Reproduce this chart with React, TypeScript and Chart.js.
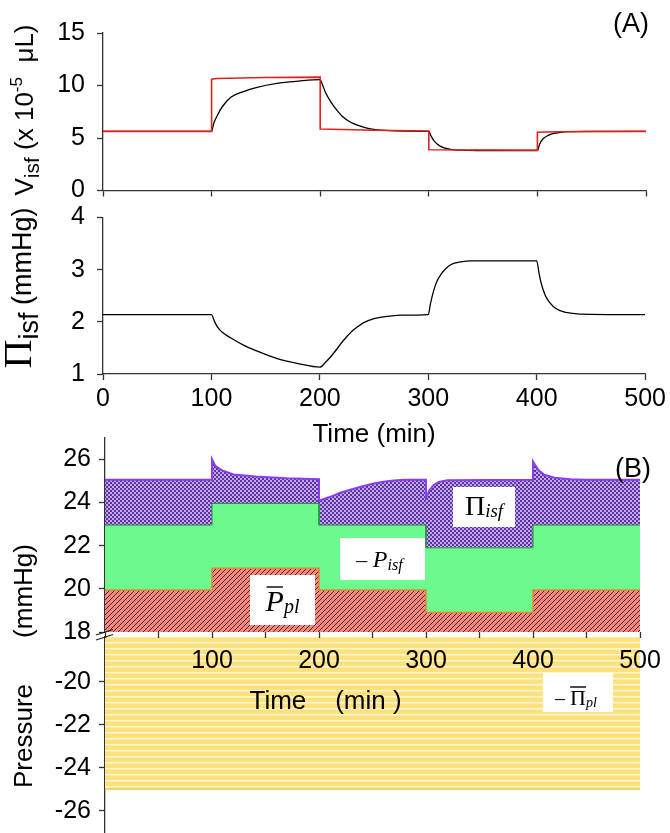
import React, { useEffect, useRef } from 'react';
import { Chart, registerables } from 'chart.js';

Chart.register(...registerables);

const SANS = "'Liberation Sans', Arial, Helvetica, sans-serif";
const SERIF = "'Liberation Serif', 'Times New Roman', serif";
const AXIS_COLOR = '#333333';

// ---------------- Panel A data ----------------
const timeTicksA = [0, 100, 200, 300, 400, 500];
const vIsfTicks = [0, 5, 10, 15];
const piIsfTicks = [1, 2, 3, 4];

// black curve, V_isf (x 10^-5 uL)
const vIsfTime = [0, 100, 102, 105, 110, 118, 130, 141, 160, 180, 200, 202, 205, 210, 215, 220, 228, 235, 245, 260, 280, 300, 302, 305, 310, 315, 320, 330, 345, 400, 402, 405, 410, 415, 420, 430, 445, 500];
const vIsfValues = [5.63, 5.63, 6.4, 7.1, 8.0, 8.9, 9.45, 9.8, 10.2, 10.42, 10.56, 10.1, 9.3, 8.4, 7.7, 7.1, 6.5, 6.2, 5.9, 5.72, 5.65, 5.63, 5.2, 4.7, 4.25, 4.03, 3.92, 3.84, 3.81, 3.8, 4.4, 4.9, 5.25, 5.43, 5.52, 5.6, 5.63, 5.63];

// red step curve
const vIsfStepTime = [0, 100, 100, 105, 150, 200, 200, 250, 300, 300, 350, 400, 400, 420, 500];
const vIsfStepValues = [5.63, 5.63, 10.6, 10.66, 10.76, 10.8, 5.86, 5.74, 5.66, 3.88, 3.86, 3.85, 5.55, 5.6, 5.63];

// Pi_isf (mmHg)
const piIsfTime = [0, 100, 103, 106, 110, 118, 130, 141, 160, 180, 200, 205, 210, 215, 220, 225, 230, 235, 240, 250, 260, 275, 300, 302, 305, 308, 312, 316, 321, 330, 340, 400, 402, 404, 408, 412, 418, 427, 440, 500];
const piIsfValues = [2.14, 2.14, 2.0, 1.89, 1.8, 1.69, 1.55, 1.45, 1.3, 1.2, 1.13, 1.22, 1.33, 1.46, 1.6, 1.72, 1.83, 1.91, 1.98, 2.06, 2.1, 2.13, 2.14, 2.35, 2.6, 2.78, 2.92, 3.02, 3.1, 3.15, 3.17, 3.17, 2.95, 2.75, 2.5, 2.37, 2.25, 2.18, 2.15, 2.14];

// ---------------- Panel B data ----------------
const pressureTopTicks = [18, 20, 22, 24, 26];
const pressureBottomTicks = [-26, -24, -22, -20];
const timeTicksB = [0, 50, 100, 150, 200, 250, 300, 350, 400, 450, 500];
const timeLabelsB = [100, 200, 300, 400, 500];

const stepTime = [0, 100, 100, 200, 200, 300, 300, 400, 400, 500];
const pPlTop = [19.95, 19.95, 20.95, 20.95, 19.95, 19.95, 18.9, 18.9, 19.95, 19.95];
const negPIsfTop = [22.95, 22.95, 23.95, 23.95, 22.95, 22.95, 21.9, 21.9, 22.95, 22.95];

const piIsfTopTime = [0, 100, 100, 103, 109, 120, 141, 170, 200, 200, 210, 220, 230, 240, 250, 260, 270, 280, 300, 300, 303, 307, 312, 320, 400, 400, 405, 410, 420, 435, 450, 500];
const piIsfTopValues = [25.05, 25.05, 26.0, 25.7, 25.5, 25.3, 25.2, 25.12, 25.08, 24.08, 24.25, 24.45, 24.6, 24.74, 24.87, 24.96, 25.02, 25.05, 25.05, 24.2, 24.55, 24.8, 24.95, 25.03, 25.05, 25.9, 25.5, 25.3, 25.15, 25.08, 25.05, 25.05];

const negPiPlTime = [0, 500];
const negPiPlValues = [-25, -25];

const zip = (xs: number[], ys: number[]) => xs.map((x, i) => ({ x, y: ys[i] }));

// ---------------- helpers ----------------
type Seg = { t: string; f: string; dy?: number; over?: [number, number, number] };

function segsWidth(ctx: CanvasRenderingContext2D, segs: Seg[]) {
  let w = 0;
  for (const s of segs) {
    ctx.font = s.f;
    w += ctx.measureText(s.t).width;
  }
  return w;
}

function drawSegs(ctx: CanvasRenderingContext2D, segs: Seg[], x: number, y: number) {
  ctx.textBaseline = 'alphabetic';
  ctx.textAlign = 'left';
  ctx.fillStyle = '#000';
  let cx = x;
  for (const s of segs) {
    ctx.font = s.f;
    const w = ctx.measureText(s.t).width;
    ctx.fillText(s.t, cx, y + (s.dy || 0));
    if (s.over) {
      ctx.beginPath();
      ctx.lineWidth = 1.4;
      ctx.strokeStyle = '#000';
      ctx.moveTo(cx + s.over[1], y + s.over[0]);
      ctx.lineTo(cx + w - s.over[2], y + s.over[0]);
      ctx.stroke();
    }
    cx += w;
  }
}

function drawRotated(ctx: CanvasRenderingContext2D, segs: Seg[], baseX: number, centerY: number) {
  const w = segsWidth(ctx, segs);
  ctx.save();
  ctx.translate(baseX, centerY);
  ctx.rotate(-Math.PI / 2);
  drawSegs(ctx, segs, -w / 2, 0);
  ctx.restore();
}

function drawBox(ctx: CanvasRenderingContext2D, x: number, y: number, w: number, h: number, segs: Seg[], baseline: number, shift = 0) {
  ctx.fillStyle = '#ffffff';
  ctx.fillRect(x, y, w, h);
  const tw = segsWidth(ctx, segs);
  drawSegs(ctx, segs, x + (w - tw) / 2 + shift, baseline);
}

function decor(draw: (ctx: CanvasRenderingContext2D) => void) {
  return {
    id: 'decor',
    afterDraw(chart: any) {
      const ctx = chart.ctx as CanvasRenderingContext2D;
      ctx.save();
      draw(ctx);
      ctx.restore();
    },
  };
}

function makePattern(ctx: CanvasRenderingContext2D, kind: 'hatch' | 'check' | 'stripe') {
  const c = document.createElement('canvas');
  const g = c.getContext('2d')!;
  if (kind === 'hatch') {
    c.width = 5; c.height = 5;
    g.fillStyle = '#f4877f';
    g.fillRect(0, 0, 5, 5);
    g.strokeStyle = 'rgba(30,8,8,0.85)';
    g.lineWidth = 0.9;
    g.beginPath();
    g.moveTo(-1, 6); g.lineTo(6, -1);
    g.moveTo(-1, 1); g.lineTo(1, -1);
    g.moveTo(4, 6); g.lineTo(6, 4);
    g.stroke();
  } else if (kind === 'check') {
    c.width = 4; c.height = 4;
    g.fillStyle = '#c3a6f8';
    g.fillRect(0, 0, 4, 4);
    g.fillStyle = '#5a3796';
    g.fillRect(0, 0, 2, 2);
    g.fillRect(2, 2, 2, 2);
  } else {
    c.width = 6; c.height = 6;
    g.fillStyle = '#fde17c';
    g.fillRect(0, 0, 6, 6);
    g.fillStyle = '#fff6d2';
    g.fillRect(0, 0, 6, 1);
    g.fillStyle = '#feeba8';
    g.fillRect(0, 1, 6, 1);
  }
  return ctx.createPattern(c, 'repeat')!;
}

function yAxis(min: number, max: number, ticks: number[], width: number, pad: number) {
  return {
    type: 'linear' as const,
    position: 'left' as const,
    min,
    max,
    afterBuildTicks: (s: any) => { s.ticks = ticks.map((v) => ({ value: v })); },
    afterFit: (s: any) => { s.width = width; s.paddingTop = 0; s.paddingBottom = 0; },
    grid: { drawOnChartArea: false, drawTicks: true, tickLength: 6, tickColor: AXIS_COLOR, tickWidth: 1.3 },
    border: { display: true, color: AXIS_COLOR, width: 1.3 },
    ticks: { color: '#000', font: { family: SANS, size: 25 }, padding: pad, autoSkip: false },
  };
}

const common = {
  responsive: false,
  maintainAspectRatio: false,
  animation: false as const,
  devicePixelRatio: 1,
  events: [] as any[],
};

export default function App() {
  const aTop = useRef<HTMLCanvasElement>(null);
  const aBot = useRef<HTMLCanvasElement>(null);
  const bTop = useRef<HTMLCanvasElement>(null);
  const bBot = useRef<HTMLCanvasElement>(null);

  useEffect(() => {
    const charts: Chart[] = [];

    // ---------- Panel A, top: V_isf ----------
    charts.push(new Chart(aTop.current!, {
      type: 'line',
      data: {
        datasets: [
          { data: zip(vIsfStepTime, vIsfStepValues), borderColor: '#e0221d', borderWidth: 1.6, pointRadius: 0, tension: 0, fill: false },
          { data: zip(vIsfTime, vIsfValues), borderColor: '#000', borderWidth: 1.3, pointRadius: 0, cubicInterpolationMode: 'monotone', fill: false },
        ],
      },
      options: {
        ...common,
        layout: { padding: { left: 43, right: 24, top: 33, bottom: 632.5 } },
        plugins: { legend: { display: false }, tooltip: { enabled: false } },
        scales: {
          x: {
            type: 'linear', position: 'bottom', min: 0, max: 500,
            afterBuildTicks: (s: any) => { s.ticks = timeTicksA.map((v) => ({ value: v })); },
            afterFit: (s: any) => { s.height = 10; },
            grid: { drawOnChartArea: false, drawTicks: true, tickLength: 6, tickColor: AXIS_COLOR, tickWidth: 1.3 },
            border: { display: true, color: AXIS_COLOR, width: 1.3 },
            ticks: { display: false },
          },
          y: yAxis(0, 15, vIsfTicks, 60, 12),
        },
      } as any,
      plugins: [decor((ctx) => {
        ctx.font = `27px ${SANS}`;
        ctx.fillStyle = '#000';
        ctx.textAlign = 'right';
        ctx.textBaseline = 'alphabetic';
        ctx.fillText('(A)', 649, 32);
        drawRotated(ctx, [
          { t: 'V', f: `26px ${SANS}` },
          { t: 'isf', f: `21px ${SANS}`, dy: 6 },
          { t: ' (x 10', f: `26px ${SANS}` },
          { t: '-5', f: `17px ${SANS}`, dy: -11 },
          { t: '  \u03bcL)', f: `26px ${SANS}` },
        ], 33, 110);
      })],
    }));

    // ---------- Panel A, bottom: Pi_isf ----------
    charts.push(new Chart(aBot.current!, {
      type: 'line',
      data: {
        datasets: [
          { data: zip(piIsfTime, piIsfValues), borderColor: '#000', borderWidth: 1.3, pointRadius: 0, cubicInterpolationMode: 'monotone', fill: false },
        ],
      },
      options: {
        ...common,
        layout: { padding: { left: 43, right: 24, top: 217.6, bottom: 379 } },
        plugins: { legend: { display: false }, tooltip: { enabled: false } },
        scales: {
          x: {
            type: 'linear', position: 'bottom', min: 0, max: 500,
            afterBuildTicks: (s: any) => { s.ticks = timeTicksA.map((v) => ({ value: v })); },
            afterFit: (s: any) => { s.height = 80; },
            grid: { drawOnChartArea: false, drawTicks: true, tickLength: 6, tickColor: AXIS_COLOR, tickWidth: 1.3 },
            border: { display: true, color: AXIS_COLOR, width: 1.3 },
            ticks: { color: '#000', font: { family: SANS, size: 25 }, padding: 4, autoSkip: false, maxRotation: 0 },
            title: { display: true, text: 'Time (min)', color: '#000', font: { family: SANS, size: 26 }, padding: { top: 0, bottom: 4 } },
          },
          y: yAxis(1, 4, piIsfTicks, 60, 12),
        },
      } as any,
      plugins: [decor((ctx) => {
        drawRotated(ctx, [
          { t: '\u03a0', f: `40px ${SERIF}` },
          { t: 'isf', f: `27px ${SANS}`, dy: 7 },
          { t: ' (mmHg)', f: `27px ${SANS}` },
        ], 31, 288);
      })],
    }));

    // ---------- Panel B, top part ----------
    const ctxB = bTop.current!.getContext('2d')!;
    const hatch = makePattern(ctxB, 'hatch');
    const check = makePattern(ctxB, 'check');
    charts.push(new Chart(bTop.current!, {
      type: 'line',
      data: {
        datasets: [
          { data: zip(stepTime, pPlTop), borderColor: '#e58a2e', borderWidth: 1.5, backgroundColor: hatch, pointRadius: 0, tension: 0, fill: 'start' },
          { data: zip(stepTime, negPIsfTop), borderColor: '#2f8f45', borderWidth: 1, backgroundColor: '#6cf98d', pointRadius: 0, tension: 0, fill: '-1' },
          { data: zip(piIsfTopTime, piIsfTopValues), borderColor: '#8b3df2', borderWidth: 2, backgroundColor: check, pointRadius: 0, tension: 0, fill: '-1' },
        ],
      },
      options: {
        ...common,
        layout: { padding: { left: 45, right: 30, top: 437.7, bottom: 111 } },
        plugins: { legend: { display: false }, tooltip: { enabled: false } },
        scales: {
          x: {
            type: 'linear', position: 'bottom', min: 0, max: 500,
            afterBuildTicks: (s: any) => { s.ticks = timeTicksB.map((v) => ({ value: v })); },
            afterFit: (s: any) => { s.height = 90; },
            grid: { drawOnChartArea: false, drawTicks: true, tickLength: 6, tickColor: AXIS_COLOR, tickWidth: 1.3 },
            border: { display: false },
            ticks: {
              color: '#000', font: { family: SANS, size: 25 }, padding: 8, autoSkip: false, maxRotation: 0,
              callback: (v: any) => (timeLabelsB.includes(Number(v)) ? String(v) : ''),
            },
            title: {
              display: true,
              text: 'Time\u00a0\u00a0\u00a0\u00a0(min )' + '\u00a0'.repeat(13),
              color: '#000', font: { family: SANS, size: 26 }, padding: { top: 0, bottom: 5 },
            },
          },
          y: yAxis(18, 27, pressureTopTicks, 60, 8),
        },
      } as any,
      plugins: [decor((ctx) => {
        // axis break marks
        ctx.strokeStyle = '#222';
        ctx.lineWidth = 1.3;
        ctx.beginPath();
        ctx.moveTo(96, 635); ctx.lineTo(113, 629.5);
        ctx.moveTo(96, 640); ctx.lineTo(113, 634.5);
        ctx.stroke();
        // panel label
        ctx.font = `27px ${SANS}`;
        ctx.fillStyle = '#000';
        ctx.textAlign = 'right';
        ctx.textBaseline = 'alphabetic';
        ctx.fillText('(B)', 651, 477);
        // y title
        drawRotated(ctx, [{ t: '(mmHg)', f: `26px ${SANS}` }], 32, 591);
        drawRotated(ctx, [{ t: 'Pressure', f: `26px ${SANS}` }], 32, 736);
        // annotation boxes
        drawBox(ctx, 453, 487, 62, 40, [
          { t: '\u03a0', f: `28px ${SERIF}` },
          { t: 'isf', f: `italic 19px ${SERIF}`, dy: 2 },
        ], 515);
        drawBox(ctx, 340, 538, 85, 42, [
          { t: '\u2013 ', f: `22px ${SERIF}` },
          { t: 'P', f: `italic 24px ${SERIF}` },
          { t: 'isf', f: `italic 16px ${SERIF}`, dy: 3 },
        ], 567, -3);
        drawBox(ctx, 250, 575, 65, 50, [
          { t: 'P', f: `italic 30px ${SERIF}`, over: [-24, 1, 1] },
          { t: 'pl', f: `italic 20px ${SERIF}`, dy: 2 },
        ], 611);
      })],
    }));

    // ---------- Panel B, bottom part ----------
    const ctxB2 = bBot.current!.getContext('2d')!;
    const stripe = makePattern(ctxB2, 'stripe');
    charts.push(new Chart(bBot.current!, {
      type: 'line',
      data: {
        datasets: [
          { data: zip(negPiPlTime, negPiPlValues), borderColor: '#e8c94e', borderWidth: 1.2, backgroundColor: stripe, pointRadius: 0, tension: 0, fill: 'end' },
        ],
      },
      options: {
        ...common,
        layout: { padding: { left: 45, right: 30, top: 636.9, bottom: 0.8 } },
        plugins: { legend: { display: false }, tooltip: { enabled: false } },
        scales: {
          x: { type: 'linear', display: false, min: 0, max: 500 },
          y: yAxis(-27, -17.92, pressureBottomTicks, 60, 8),
        },
      } as any,
      plugins: [decor((ctx) => {
        drawBox(ctx, 543, 673, 70, 39, [
          { t: '\u2013 ', f: `20px ${SERIF}` },
          { t: '\u03a0', f: `22px ${SERIF}`, over: [-18, 0, 0] },
          { t: 'pl', f: `italic 14px ${SERIF}`, dy: 2 },
        ], 705, -2);
      })],
    }));

    return () => charts.forEach((c) => c.destroy());
  }, []);

  const cs: React.CSSProperties = { position: 'absolute', left: 0, top: 0, width: 670, height: 833 };
  return (
    <div style={{ position: 'absolute', left: 0, top: 0, width: 670, height: 833, background: '#fff', overflow: 'hidden' }}>
      <canvas ref={bBot} width={670} height={833} style={cs} />
      <canvas ref={bTop} width={670} height={833} style={cs} />
      <canvas ref={aBot} width={670} height={833} style={cs} />
      <canvas ref={aTop} width={670} height={833} style={cs} />
    </div>
  );
}
